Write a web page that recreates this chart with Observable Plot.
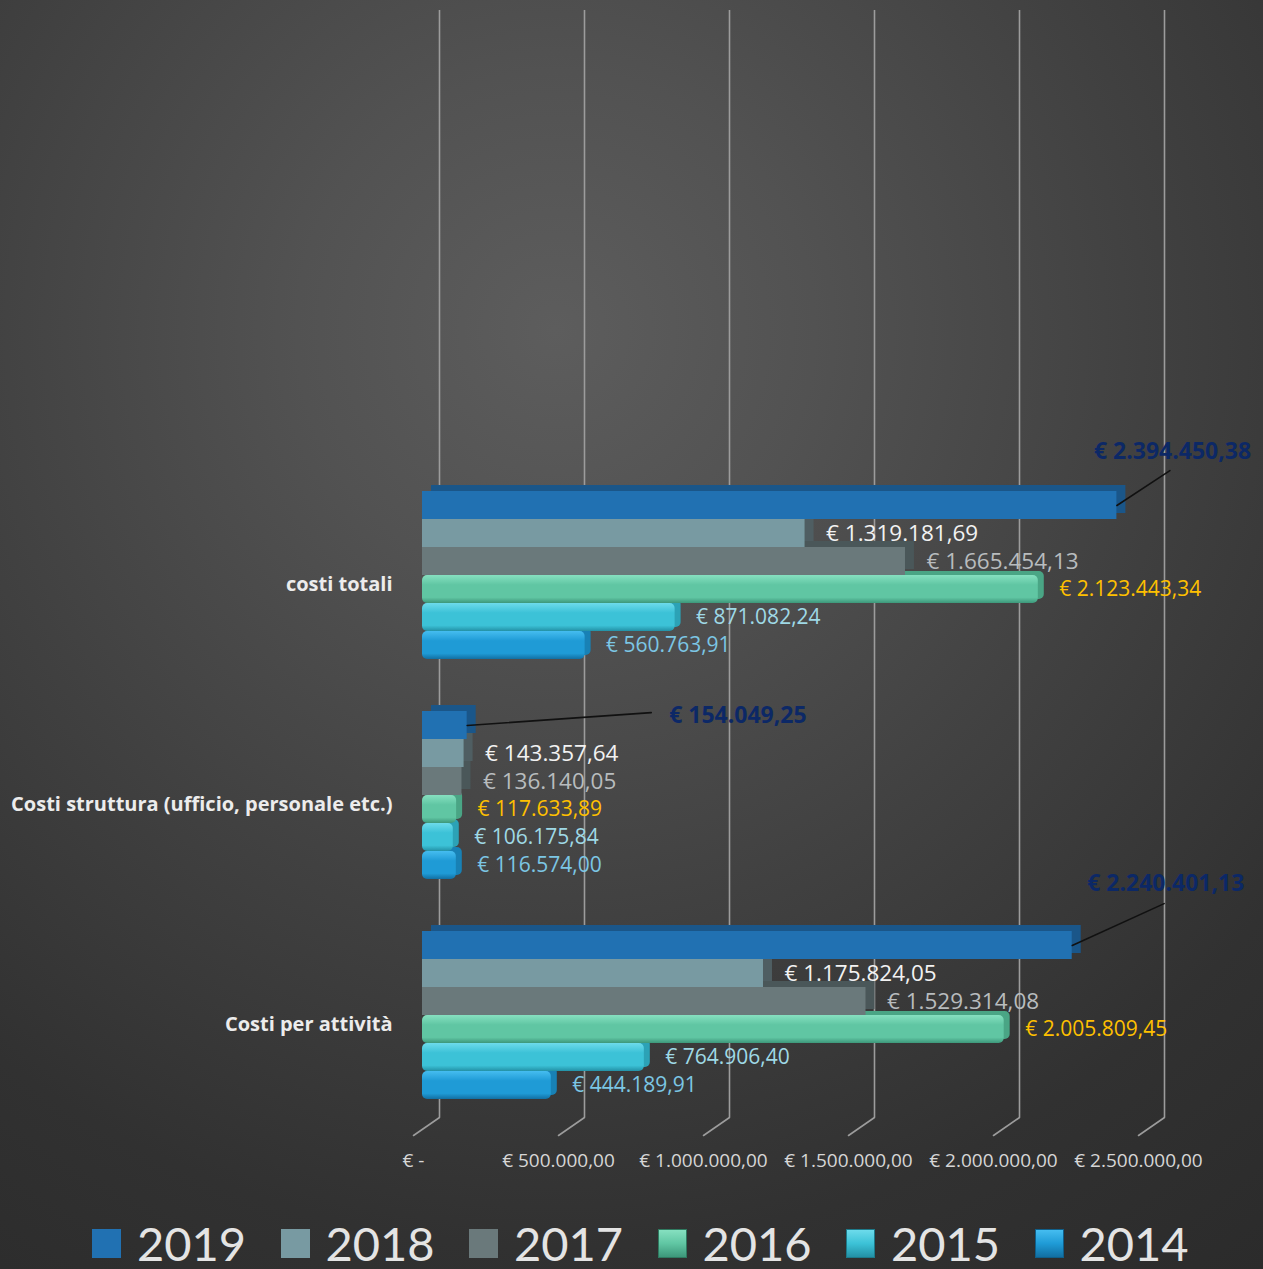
<!DOCTYPE html>
<html><head><meta charset="utf-8">
<script src="https://cdn.jsdelivr.net/npm/d3@7"></script>
<script src="https://cdn.jsdelivr.net/npm/@observablehq/plot@0.6"></script>
<style>
html,body{margin:0;padding:0;}
body{width:1263px;height:1269px;overflow:hidden;position:relative;font-family:Lato,sans-serif;
background: radial-gradient(circle at 44% 26%, #5d5d5d 0%, #525252 22%, #414141 50%, #313131 78%, #2b2b2b 100%);}
#grid,#chart{position:absolute;left:0;top:0;}
#legend{position:absolute;left:92px;top:1217px;display:flex;}
.item{width:188.5px;display:flex;align-items:center;}
.sw{width:29px;height:29px;margin-right:16px;box-sizing:border-box;}
.lab{font-size:47px;color:#e4e4e4;line-height:52px;}
</style></head><body>
<div id="grid"></div><div id="chart"></div><div id="legend"></div>
<script>
// ---- data ----
const categories = ["costi totali", "Costi struttura (ufficio, personale etc.)", "Costi per attività"];
const years = ["2019", "2018", "2017", "2016", "2015", "2014"];
const costiTotali    = [2394450.38, 1319181.69, 1665454.13, 2123443.34, 871082.24, 560763.91];
const costiStruttura = [154049.25, 143357.64, 136140.05, 117633.89, 106175.84, 116574.00];
const costiAttivita  = [2240401.13, 1175824.05, 1529314.08, 2005809.45, 764906.40, 444189.91];
const xTicks = [0, 500000, 1000000, 1500000, 2000000, 2500000];

// ---- styles ----
const barFills   = ["#2171b2", "#789aa2", "#6a797b", "url(#g2016)", "url(#g2015)", "url(#g2014)"];
const depthFills = ["#1a5689", "#4f5e62", "#4a5759", "#4aa585", "#2ca2b6", "#1881b5"];
const depthShift = [[9, -6], [9, -6], [9, -6], [6, -4], [6, -4], [6, -4]];
const labelFills = ["#0c2866", "#f2f2f2", "#b8bcbe", "#ffc000", "#9fd9e6", "#7cc6e4"];
const labelSizes = [23, 22.5, 22.5, 21, 21, 21];
const gradients = {
  g2016: ["#86e0c0", "#60c6a3", "#3d977a"],
  g2015: ["#6ddbeb", "#3cc2d7", "#2391a6"],
  g2014: ["#45bdf0", "#1f9bd6", "#126fa2"]
};
const legendSwatch = [
  "background:#2171b2", "background:#789aa2", "background:#6a797b",
  "background:linear-gradient(#86e0c0,#60c6a3 50%,#3d977a);border:1px solid #2f7a60",
  "background:linear-gradient(#6ddbeb,#3cc2d7 50%,#2391a6);border:1px solid #1d7a8a",
  "background:linear-gradient(#45bdf0,#1f9bd6 50%,#126fa2);border:1px solid #0f5f8a"
];
const callouts = [ // pixel offsets of the 2019 call-out labels and leader lines
  {dx: -23, dy: -54, rotate: 56.6, length: 63.5},
  {dx: 202, dy: -10, rotate: 86, length: 184.5},
  {dx: 15, dy: -62, rotate: 65.5, length: 101}
];
const gridColor = "#9c9c9c";
const numFont = "'Open Sans', sans-serif";

const series = [costiTotali, costiStruttura, costiAttivita];
const rows = categories.flatMap((category, ci) =>
  years.map((year, yi) => ({category, year, value: series[ci][yi]})));

const fmt = d3.formatLocale({decimal: ",", thousands: ".", grouping: [3], currency: ["€ ", ""]}).format("$,.2f");
const euro = v => v === 0 ? "€ -" : fmt(v);
const lineShape = {draw(context, l) { context.moveTo(0, 0); context.lineTo(0, -l); }};

const W = 1263, H = 1200, mL = 422, mR = 116, mT = 487, mB = 97;
const xScale = {domain: [0, 2500000], axis: null};

// background: 3D wall gridlines, floor slants and tick labels
const grid = Plot.plot({
  width: W, height: H, marginLeft: mL, marginRight: mR, marginTop: 10, marginBottom: H - 1117,
  style: {fontFamily: numFont, background: "transparent", overflow: "visible"},
  x: xScale,
  marks: [
    Plot.ruleX(xTicks, {x: d => d, dx: 17, stroke: gridColor, strokeWidth: 1.6}),
    Plot.vector(xTicks, {x: d => d, frameAnchor: "bottom", dx: 17, length: 31.6, rotate: 235.3,
      anchor: "start", shape: lineShape, stroke: gridColor, strokeWidth: 1.6}),
    Plot.text(xTicks, {x: d => d, frameAnchor: "bottom", dx: -9, dy: 49, text: euro, fill: "#d6d6d6", fontSize: 19})
  ]
});
document.getElementById("grid").append(grid);

const marks = [
  Plot.text(categories, {fy: d => d, text: d => d, frameAnchor: "left", dx: -30, dy: 9, textAnchor: "end",
    fill: "#ececec", fontSize: 20, fontWeight: "bold"})
];
years.forEach((yr, i) => {
  marks.push(Plot.barX(rows, {filter: d => d.year === yr, fy: "category", y: "year", x: "value",
    fill: depthFills[i], dx: depthShift[i][0], dy: depthShift[i][1], rx: i >= 3 ? 5 : 0}));
});
marks.push(Plot.barX(rows, {fy: "category", y: "year", x: "value", fill: "year"}));
years.forEach((yr, i) => {
  if (i === 0) return;
  marks.push(Plot.text(rows, {filter: d => d.year === yr, fy: "category", y: "year", x: "value", text: d => euro(d.value),
    dx: 21, textAnchor: "start", fill: labelFills[i], fontSize: labelSizes[i]}));
});
categories.forEach((cat, ci) => {
  const c = callouts[ci];
  marks.push(Plot.vector(rows, {filter: d => d.year === "2019" && d.category === cat, fy: "category", y: "year", x: "value",
    anchor: "start", length: c.length, rotate: c.rotate, shape: lineShape, stroke: "#111", strokeWidth: 1.6}));
  marks.push(Plot.text(rows, {filter: d => d.year === "2019" && d.category === cat, fy: "category", y: "year", x: "value",
    text: d => euro(d.value), dx: c.dx, dy: c.dy, textAnchor: "start", fill: labelFills[0], fontSize: labelSizes[0], fontWeight: "bold"}));
});

const plot = Plot.plot({
  width: W, height: H, marginLeft: mL, marginRight: mR, marginTop: mT, marginBottom: mB,
  style: {fontFamily: numFont, background: "transparent", overflow: "visible"},
  x: xScale,
  y: {domain: years, axis: null, padding: 0.01},
  fy: {domain: categories, axis: null, paddingInner: 0.21, paddingOuter: 0},
  color: {domain: years, range: barFills},
  marks
});

const defs = d3.select(plot).insert("defs", ":first-child");
Object.entries(gradients).forEach(([id, [a, b, c]]) => {
  const g = defs.append("linearGradient").attr("id", id).attr("x1", 0).attr("y1", 0).attr("x2", 0).attr("y2", 1);
  g.append("stop").attr("offset", "0%").attr("stop-color", a);
  g.append("stop").attr("offset", "35%").attr("stop-color", b);
  g.append("stop").attr("offset", "80%").attr("stop-color", b);
  g.append("stop").attr("offset", "100%").attr("stop-color", c);
});
d3.select(plot).selectAll("rect").filter(function() {
  return (this.getAttribute("fill") || "").startsWith("url(");
}).attr("rx", 5);
document.getElementById("chart").append(plot);

const legend = d3.select("#legend");
years.forEach((yr, i) => {
  const it = legend.append("div").attr("class", "item");
  it.append("div").attr("class", "sw").attr("style", legendSwatch[i]);
  it.append("div").attr("class", "lab").text(yr);
});
</script></body></html>
